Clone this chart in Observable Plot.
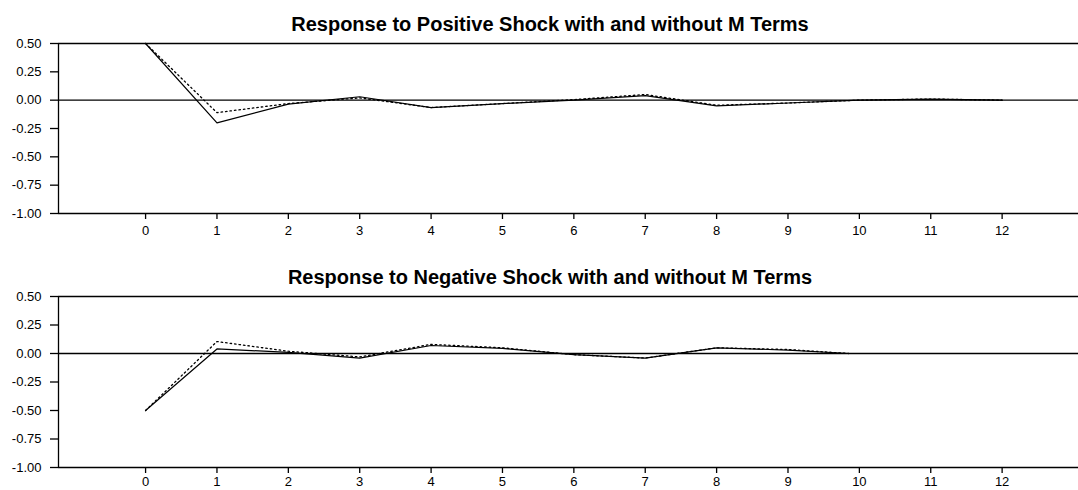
<!DOCTYPE html>
<html>
<head>
<meta charset="utf-8">
<script src="https://cdn.jsdelivr.net/npm/d3@7"></script>
<script src="https://cdn.jsdelivr.net/npm/@observablehq/plot@0.6"></script>
<style>
  html, body { margin: 0; padding: 0; background: #fff; }
  #wrap { position: relative; width: 1078px; height: 490px; overflow: hidden; font-family: "Liberation Sans", Arial, sans-serif; }
  .title { position: absolute; left: 0; width: 1100px; text-align: center; font-weight: bold; font-size: 20px; line-height: 24px; color: #000; }
  .panel { position: absolute; left: 0; }
</style>
</head>
<body>
<div id="wrap">
  <div class="title" id="t1" style="top:12px">Response to Positive Shock with and without M Terms</div>
  <div class="panel" id="p1" style="top:0px"></div>
  <div class="title" id="t2" style="top:265px">Response to Negative Shock with and without M Terms</div>
  <div class="panel" id="p2" style="top:253px"></div>
</div>
<script>
// Periods after the shock
const periods = [0, 1, 2, 3, 4, 5, 6, 7, 8, 9, 10, 11, 12];
const xTicks = [0, 1, 2, 3, 4, 5, 6, 7, 8, 9, 10, 11, 12];
const yTicks = [0.5, 0.25, 0, -0.25, -0.5, -0.75, -1.0];

// Positive shock: with M terms (solid) and without M terms (dotted)
const posWithM    = [0.50, -0.20, -0.035, 0.03, -0.065, -0.03, 0.00, 0.04, -0.05, -0.025, 0.00, 0.01, 0.00];
const posWithoutM = [0.50, -0.11, -0.030, 0.02, -0.065, -0.03, 0.005, 0.05, -0.045, -0.025, 0.00, 0.01, 0.00];

// Negative shock: with M terms (solid) and without M terms (dotted)
const negPeriods  = [0, 1, 2, 3, 4, 5, 6, 7, 8, 9, 9.85];
const negWithM    = [-0.50, 0.04, 0.01, -0.04, 0.07, 0.045, -0.01, -0.04, 0.05, 0.03, 0.00];
const negWithoutM = [-0.50, 0.105, 0.02, -0.03, 0.08, 0.05, -0.01, -0.04, 0.05, 0.035, 0.00];

const X_DOMAIN = [-1.22, 13.07];
const Y_DOMAIN = [-1.0, 0.5];

function panel(xs, solid, dotted, height, marginBottom, xPad) {
  const solidRows = xs.map((x, i) => ({x, y: solid[i]}));
  const dottedRows = xs.map((x, i) => ({x, y: dotted[i]}));
  return Plot.plot({
    width: 1078,
    height: height,
    marginTop: 43,
    marginBottom: marginBottom,
    marginLeft: 58,
    marginRight: 0,
    style: {fontFamily: '"Liberation Sans", Arial, sans-serif', fontSize: "13px", color: "#000", background: "transparent", overflow: "visible"},
    x: {domain: X_DOMAIN},
    y: {domain: Y_DOMAIN},
    marks: [
      Plot.axisY(yTicks, {tickFormat: d => d.toFixed(2), tickSize: 8, tickPadding: 9, stroke: "#000", strokeWidth: 1.3, label: null, fill: "#000", fontSize: 13}),
      Plot.axisX(xTicks, {tickSize: 6, tickPadding: xPad, stroke: "#000", strokeWidth: 1.3, label: null, fill: "#000", fontSize: 13}),
      Plot.ruleY([Y_DOMAIN[1], 0, Y_DOMAIN[0]], {stroke: "#000", strokeWidth: 1.3}),
      Plot.ruleX([X_DOMAIN[0]], {stroke: "#000", strokeWidth: 1.3}),
      Plot.line(dottedRows, {x: "x", y: "y", stroke: "#000", strokeWidth: 1.3, strokeDasharray: "1.5,3"}),
      Plot.line(solidRows, {x: "x", y: "y", stroke: "#000", strokeWidth: 1.2})
    ]
  });
}

document.getElementById("p1").appendChild(panel(periods, posWithM, posWithoutM, 237, 24, 6));
document.getElementById("p2").appendChild(panel(negPeriods, negWithM, negWithoutM, 237, 23, 3));
</script>
</body>
</html>
